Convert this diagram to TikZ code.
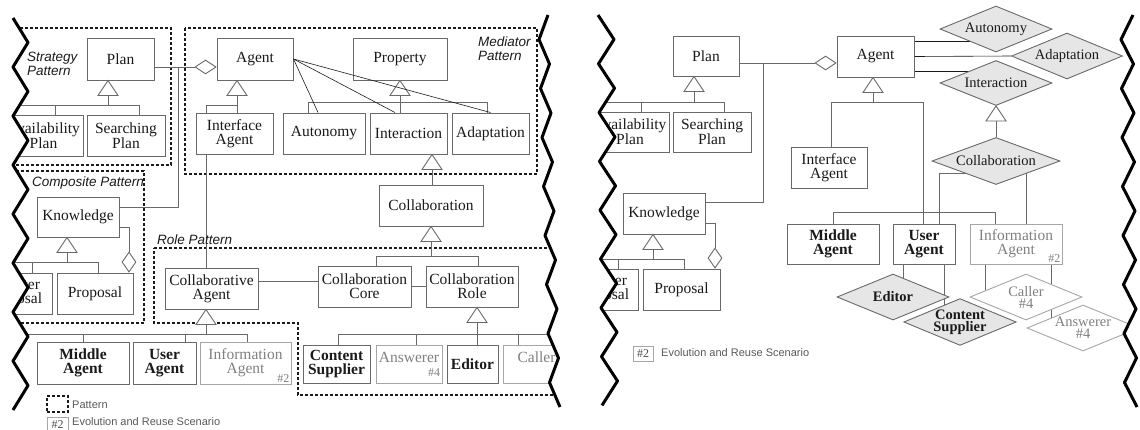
\documentclass[tikz,border=0pt]{standalone}
\usepackage{fontspec}
\setmainfont{Liberation Serif}
\setsansfont{Liberation Sans}
\usetikzlibrary{shapes.geometric}

\definecolor{linegray}{HTML}{696969}
\definecolor{ghostline}{HTML}{A6A6A6}
\definecolor{ghosttext}{HTML}{808080}
\definecolor{propfill}{HTML}{E6E6E6}
\definecolor{ink}{HTML}{1A1A1A}

\newcommand{\boxfont}{\fontsize{15.5}{14}\selectfont}
\newcommand{\dmfont}{\fontsize{14.5}{12}\selectfont}
\newcommand{\tagfont}{\fontsize{12}{12}\selectfont}

\pgfdeclarelayer{back}
\pgfsetlayers{back,main}

\tikzset{
  cls/.style={draw=linegray, line width=1pt, fill=white, text=ink, inner sep=0pt,
    minimum height=41pt, align=center, font=\boxfont},
  strong/.style={font=\boxfont\bfseries},
  ghost/.style={cls, draw=ghostline, text=ghosttext},
  prop/.style={diamond, draw=linegray, line width=0.9pt, fill=propfill, text=ink,
    aspect=2.4, inner sep=0pt, minimum width=112pt, minimum height=46pt,
    align=center, font=\dmfont},
  strongd/.style={font=\dmfont\bfseries},
  ghostd/.style={fill=white, draw=ghostline, text=ghosttext},
  aggr/.style={diamond, draw=linegray, line width=0.9pt, fill=white, inner sep=0pt,
    minimum width=21pt, minimum height=14pt},
  aggv/.style={aggr, minimum width=14pt, minimum height=20pt},
  tag/.style={font=\tagfont, text=ghosttext, inner sep=2pt},
  tagbox/.style={draw=ghostline, line width=0.8pt, inner sep=0pt, font=\tagfont, text=black!70},
  link/.style={draw=linegray, line width=0.9pt},
  assoc/.style={draw=ink, line width=0.6pt},
  pattern/.style={draw=ink, line width=1.4pt, dash pattern=on 3pt off 2pt},
  plabel/.style={font=\sffamily\itshape\fontsize{13.5}{14}\selectfont, text=ink,
    inner sep=0pt, align=left, anchor=north west},
  legend/.style={font=\sffamily\fontsize{11}{11}\selectfont, text=black!65,
    inner sep=0pt, anchor=west},
  cut/.style={draw=black, line width=3pt, line join=round},
  gen/.pic={\draw[link, fill=white] (0,0) -- (-10,15) -- (10,15) -- cycle;
    \coordinate (-base) at (0,15);}
}

\begin{document}
\begin{tikzpicture}[x=1pt, y=-1pt]
\useasboundingbox (0,0) rectangle (1140,429);

\coordinate (lrim) at (0,0);
\coordinate (lend) at (570,0);
\coordinate (rrim) at (590,0);

% left panel
\begin{scope}
\clip (13,0) -- (13,18) \foreach \k in {1,...,8} { -- ++(15,24.5) -- ++(-15,24.5) }
  -- (13,429) -- (560,429) -- (560,407)
  \foreach \k in {1,...,8} { -- ++(-10.5,-24.5) -- ++(9,-24.5) }
  -- (548,0) -- cycle;

\draw[pattern] (8,28) rectangle (171,165);
\draw[pattern] (185,28) rectangle (537,174);
\draw[pattern] (8,171) rectangle (144,323);
\draw[pattern] (154,248) -- (575,248) -- (575,395) -- (298,395) -- (298,323) -- (154,323) -- cycle;

\node[cls, minimum width=67, minimum height=42] (lpl) at (120.5,59) {Plan};
\node[cls, minimum width=79] (lav) at (43.5,135.5) {Availability\\Plan};
\node[cls, minimum width=78] (lsp) at (126,135.5) {Searching\\Plan};
\node[cls, minimum width=76, minimum height=42] (lag) at (255,59) {Agent};
\node[cls, minimum width=77] (lif) at (234.5,133.5) {Interface\\Agent};
\node[cls, minimum width=94, minimum height=42] (lpr) at (400,59) {Property};
\node[cls, minimum width=82] (lau) at (324,133.5) {Autonomy};
\node[cls, minimum width=77] (lin) at (408.5,133.5) {Interaction};
\node[cls, minimum width=77] (lad) at (490.5,133.5) {Adaptation};
\node[cls, minimum width=104] (lco) at (431,205.5) {Collaboration};
\node[cls, minimum width=82, minimum height=40] (lkn) at (78,217) {Knowledge};
\node[cls, minimum width=74] (lcp) at (15,293.5) {Counter\\Proposal};
\node[cls, minimum width=76] (lpp) at (95,293.5) {Proposal};
\node[cls, minimum width=93] (lca) at (211.5,288.5) {Collaborative\\Agent};
\node[cls, minimum width=93] (lcc) at (364.5,286.5) {Collaboration\\Core};
\node[cls, minimum width=92] (lcr) at (472,286.5) {Collaboration\\Role};
\node[cls, strong, minimum width=92, minimum height=42] (lmi) at (83,363) {Middle\\Agent};
\node[cls, strong, minimum width=63, minimum height=42] (lus) at (164.5,363) {User\\Agent};
\node[ghost, minimum width=91, minimum height=42,
  label={[tag, anchor=south east]south east:\#2}] (lia) at (245.5,363) {Information\\Agent};
\node[cls, strong, minimum width=67, minimum height=38] (lcs) at (336.5,364) {Content\\Supplier};
\node[ghost, minimum width=66, minimum height=38] (lan) at (409,364) {Answerer\\\makebox[62pt][r]{\tagfont\#4}};
\node[cls, strong, minimum width=51, minimum height=38] (led) at (472.5,364) {Editor};
\node[ghost, minimum width=67, minimum height=38] (lcl) at (536.5,364) {Caller\\\makebox[62pt][r]{\tagfont\#4}};

\node[aggr, anchor=east] (lagg) at ([yshift=-8]lag.west) {};
\coordinate (lj) at (178,67);
\draw[link] (lpl.east |- lagg) -- (lagg.west);
\draw[link] ([yshift=10]lkn.east) -| (lj);

\pic (lt1) at ([xshift=-12.5]lpl.south) {gen};
\draw[link] (lt1-base) -- ++(0,10) coordinate (lb1) -| ([xshift=13]lsp.north);
\draw[link] (lb1) -| ([xshift=11.5]lav.north);
\draw[link] (lb1) -- (lb1 -| lrim);

\pic (lt2) at ([xshift=-18]lag.south) {gen};
\draw[link] (lt2-base) -- (lt2-base |- lif.north);
\draw[link] (lt2-base) ++(0,10) -| ([xshift=-28.5]lif.north);
\draw[link] ([xshift=-28.5]lif.south) -- ([xshift=-28.5]lif.south |- lca.north);

\pic (lt3) at (lpr.south) {gen};
\draw[link] (lt3-base) -- ++(0,7) coordinate (lb3) -| ([xshift=-16]lau.north);
\draw[link] (lb3) -| ([xshift=-8.5]lin.north);
\draw[link] (lb3) -| ([xshift=-3.5]lad.north);
\draw[assoc] (lag.east) -- ([xshift=-6]lau.north);
\draw[assoc] (lag.east) -- ([xshift=-13.5]lin.north);
\draw[assoc] (lag.east) -- (lad.north);

\pic (lt4) at ([xshift=23.5]lin.south) {gen};
\draw[link] (lt4-base) -- (lt4-base |- lco.north);

\pic (lt5) at (lco.south) {gen};
\draw[link] (lt5-base) -- ++(0,15) coordinate (lb5) -| ([xshift=11.5]lcc.north);
\draw[link] (lb5) -| ([xshift=6]lcr.north);
\draw[link] ([yshift=7.5]lca.east) -- ([yshift=7.5]lca.east -| lcc.west);
\draw[link] (lcc.east) -- (lcr.west);

\pic (lt6) at ([xshift=5]lcr.south) {gen};
\draw[link] (lt6-base) -- ++(0,12) coordinate (lb6) -| ([xshift=1.5]lcs.north);
\draw[link] (lb6) -| ([xshift=7]lan.north);
\draw[link] (lb6) -- (lb6 |- led.north);
\draw[link] (lb6) -| ([xshift=-18.5]lcl.north);
\draw[link] (lb6) -- (lb6 -| lend);

\pic (lt7) at ([xshift=-5.5]lca.south) {gen};
\draw[link] (lt7-base) -- ++(0,10) coordinate (lb7) -| ([xshift=1.5]lia.north);
\draw[link] (lb7) -| ([xshift=20.5]lus.north);
\draw[link] (lb7) -| (lmi.north);
\draw[link] (lb7) -- (lb7 -| lrim);

\pic (lt8) at ([xshift=-11]lkn.south) {gen};
\draw[link] (lt8-base) -- ++(0,10) coordinate (lb8) -| ([xshift=3]lpp.north);
\draw[link] (lb8) -| ([xshift=17]lcp.north);
\draw[link] (lb8) -- (lb8 -| lrim);
\node[aggv, anchor=south] (lkagg) at ([xshift=34]lpp.north) {};
\draw[link] ([yshift=-10]lkn.east) -| (lkagg.north);
\end{scope}

\node[plabel] (lsl) at (27,52) {Strategy\\Pattern};
\node[plabel] (lml) at (478,37) {Mediator\\Pattern};
\node[plabel] (lcpl) at (32,177) {Composite Pattern};
\node[plabel] (lrl) at (157,235) {Role Pattern};

\node[pattern, minimum width=21, minimum height=16, inner sep=0pt] (lkp) at (57.5,404) {};
\node[legend] (lkpt) at (72,405) {Pattern};
\node[tagbox, minimum width=21, minimum height=15] (lk2) at (57.5,424.5) {\#2};
\node[legend] (lk2t) at (72,422) {Evolution and Reuse Scenario};

% right panel
\begin{scope}
\clip (598,0) -- (598,15) \foreach \k in {1,...,8} { -- ++(16,24.4) -- ++(-15.5,24.4) }
  -- (602,429) -- (1140,429) -- (1137,407)
  \foreach \k in {1,...,8} { -- ++(-12.5,-24.5) -- ++(12,-24.5) }
  -- (1133,0) -- cycle;

\node[cls, minimum width=66, minimum height=40] (rpl) at (706,56) {Plan};
\node[cls, minimum width=78, minimum height=40] (rav) at (630,132) {Availability\\Plan};
\node[cls, minimum width=78, minimum height=40] (rsp) at (712,132) {Searching\\Plan};
\node[cls, minimum width=77] (rag) at (875.5,56.5) {Agent};
\node[cls, minimum width=76] (rif) at (829,167.5) {Interface\\Agent};
\node[cls, minimum width=82] (rkn) at (664,213.5) {Knowledge};
\node[cls, minimum width=72] (rcp) at (602,289.5) {Counter\\Proposal};
\node[cls, minimum width=77] (rpp) at (681.5,289.5) {Proposal};
\node[cls, strong, minimum width=92, minimum height=40] (rmi) at (833,244) {Middle\\Agent};
\node[cls, strong, minimum width=62, minimum height=40] (rus) at (924,244) {User\\Agent};
\node[ghost, minimum width=92, minimum height=40,
  label={[tag, anchor=south east]south east:\#2}] (ria) at (1016,244) {Information\\Agent};

\node[prop] (rau) at (996,29) {Autonomy};
\node[prop, minimum width=111] (rad) at (1067,56) {Adaptation};
\node[prop, minimum height=45] (rin) at (996,83) {Interaction};
\node[prop, minimum width=128, minimum height=47] (rcb) at (996,161) {Collaboration};
\node[prop, strongd] (red) at (893,297) {Editor};
\node[prop, strongd, minimum height=45] (rcs) at (960,322) {Content\\Supplier};
\node[prop, ghostd] (rcl) at (1026,297) {Caller\\\#4};
\node[prop, ghostd] (ran) at (1083,328) {Answerer\\\#4};

\node[aggr, anchor=east] (ragg) at ([yshift=-6.5]rag.west) {};
\coordinate (rj) at (763,63);
\draw[link] (rpl.east |- ragg) -- (ragg.west);
\draw[link] ([yshift=11.5]rkn.east) -| (rj);

\pic (rt1) at ([xshift=-12]rpl.south) {gen};
\draw[link] (rt1-base) -- ++(0,11) coordinate (rb1) -| ([xshift=12]rsp.north);
\draw[link] (rb1) -| ([xshift=11]rav.north);
\draw[link] (rb1) -- (rb1 -| rrim);

\pic (rt2) at ([xshift=-2.5]rag.south) {gen};
\draw[link] (rt2-base) -- ++(0,10) coordinate (rb2) -| ([xshift=2]rif.north);
\draw[link] (rb2) -| ([xshift=-1]rus.north);
\draw[link] (rmi.north) -- ++(0,-11) -| ([xshift=-21]ria.north);
\draw[assoc] (rag.east) -- (rad.west);

\pic (rt3) at (rin.south) {gen};
\draw[link] (rt3-base) -- (rcb.north);

\pic (rt4) at ([xshift=-11]rkn.south) {gen};
\draw[link] (rt4-base) -- ++(0,10) coordinate (rb4) -| ([xshift=2.5]rpp.north);
\draw[link] (rb4) -| ([xshift=16]rcp.north);
\draw[link] (rb4) -- (rb4 -| rrim);
\node[aggv, anchor=south] (rkagg) at ([xshift=33.5]rpp.north) {};
\draw[link] ([yshift=-9.5]rkn.east) -| (rkagg.north);
\end{scope}

\begin{pgfonlayer}{back}
\draw[assoc] ([yshift=15]rag.east) -- ([yshift=15]rag.east -| rau);
\draw[assoc] ([yshift=-15]rag.east) -- ([yshift=-15]rag.east -| rin);
\draw[link] ([yshift=-12]rcb.center) -| ([xshift=15]rus.north);
\draw[link] ([xshift=10]ria.north) -- ([xshift=10]ria.north |- rcb);
\draw[link] ([xshift=-21]rus.south) -- ([xshift=-21]rus.south |- red);
\draw[link] ([xshift=20]rus.south) -- ([xshift=20]rus.south |- rcs);
\draw[link] ([xshift=-31]ria.south) -- ([xshift=-31]ria.south |- rcl);
\draw[link] ([xshift=35]ria.south) -- ([xshift=35]ria.south |- ran);
\end{pgfonlayer}

\node[tagbox, minimum width=20, minimum height=15] (rk2) at (643,353.5) {\#2};
\node[legend] (rk2t) at (661,353) {Evolution and Reuse Scenario};

% cut edges
\draw[cut] (13,18) \foreach \k in {1,...,8} { -- ++(15,24.5) -- ++(-15,24.5) };
\draw[cut] (548,15) \foreach \k in {1,...,8} { -- ++(-9,24.5) -- ++(10.5,24.5) };
\draw[cut] (598,15) \foreach \k in {1,...,8} { -- ++(16,24.4) -- ++(-15.5,24.4) };
\draw[cut] (1133,15) \foreach \k in {1,...,8} { -- ++(-12,24.5) -- ++(12.5,24.5) };

\end{tikzpicture}
\end{document}
